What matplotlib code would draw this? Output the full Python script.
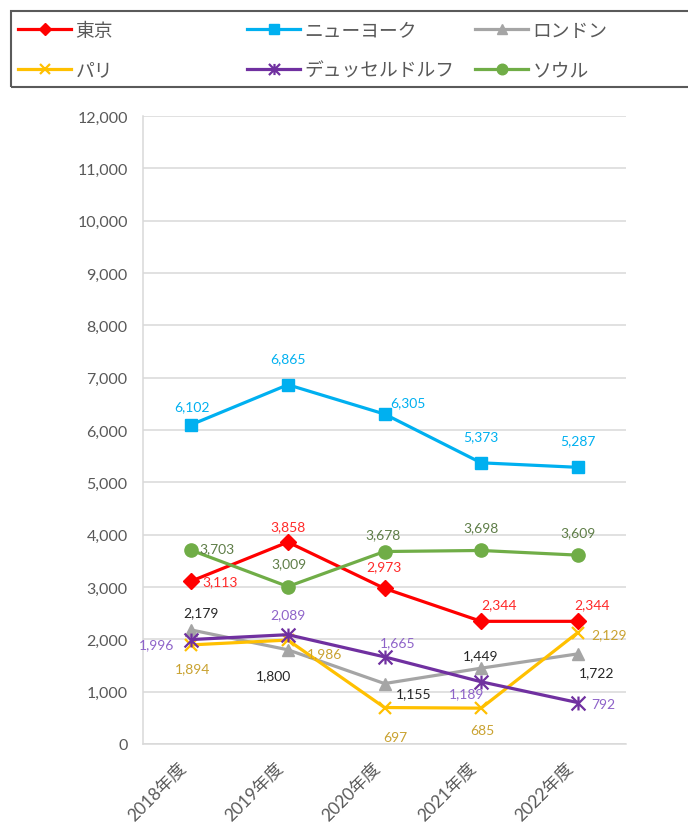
import matplotlib
matplotlib.use("Agg")
import matplotlib.pyplot as plt
from matplotlib.path import Path
from matplotlib.patches import Rectangle
from matplotlib.ticker import FuncFormatter, MultipleLocator
from matplotlib.transforms import ScaledTranslation

plt.rcParams['font.family'] = ['Lato', 'Noto Sans CJK JP', 'DejaVu Sans']

# ---- data ----
years = ['2018年度', '2019年度', '2020年度', '2021年度', '2022年度']
cities = ['東京', 'ニューヨーク', 'ロンドン', 'パリ', 'デュッセルドルフ', 'ソウル']
tokyo = [3113, 3858, 2973, 2344, 2344]
new_york = [6102, 6865, 6305, 5373, 5287]
london = [2179, 1800, 1155, 1449, 1722]
paris = [1894, 1986, 697, 685, 2129]
dusseldorf = [1996, 2089, 1665, 1189, 792]
seoul = [3703, 3009, 3678, 3698, 3609]
series = [tokyo, new_york, london, paris, dusseldorf, seoul]

# ---- styles ----
line_colors = ['#FF0000', '#00B0F0', '#A5A5A5', '#FFC000', '#7030A0', '#70AD47']
label_colors = ['#FF2A2A', '#00B0F0', '#262626', '#C9A230', '#8E63C9', '#5E7D47']

# asterisk marker: an X crossed by a vertical bar
star_path = Path([(-1, -1), (1, 1), (-1, 1), (1, -1), (0, -1), (0, 1)],
                 [Path.MOVETO, Path.LINETO, Path.MOVETO, Path.LINETO,
                  Path.MOVETO, Path.LINETO])
markers = ['D', 's', '^', 'x', star_path, 'o']
marker_sizes = [8, 9, 9, 9, 10, 9.5]
marker_ew = [1, 1, 1, 1.6, 1.6, 1]

# label offsets in pixels (dx, dy up) from each point
label_offsets = [
    [(29, 0), (0, 16), (-1, 22), (18, 17), (14, 17)],
    [(1, 19), (0, 27), (23, 12), (0, 27), (0, 27)],
    [(10, 18), (-14, -25), (29, -10), (0, 13), (19, -18)],
    [(1, -23), (37, -13), (11, -29), (1, -22), (31, -2)],
    [(-35, -5), (0, 21), (13, 15), (-15, -11), (26, -1)],
    [(26, 2), (1, 23), (-1, 17), (0, 23), (0, 23)],
]

W, H = 688, 828
fig = plt.figure(figsize=(W / 100, H / 100), dpi=100)
ax = fig.add_axes([143 / W, 83 / H, (626 - 143) / W, (745 - 117) / H])

x = list(range(len(years)))
handles = []
for vals, name, lc, mk, ms, mew in zip(series, cities, line_colors, markers,
                                        marker_sizes, marker_ew):
    h, = ax.plot(x, vals, color=lc, lw=2.3, marker=mk, markersize=ms,
                 markerfacecolor=lc, markeredgecolor=lc, markeredgewidth=mew,
                 label=name, zorder=3, clip_on=False)
    handles.append(h)

for vals, offs, tc in zip(series, label_offsets, label_colors):
    for xi, v, (dx, dy) in zip(x, vals, offs):
        ax.annotate(f'{v:,}', (xi, v), xytext=(dx * 0.72, dy * 0.72),
                    textcoords='offset points', ha='center', va='center',
                    fontsize=10, color=tc, zorder=5)

ax.set_xlim(-0.5, 4.5)
ax.set_ylim(0, 12000)
ax.yaxis.set_major_locator(MultipleLocator(1000))
ax.yaxis.set_major_formatter(FuncFormatter(lambda v, p: f'{int(v):,}'))
ax.set_xticks(x)
ax.set_xticklabels(years)
ax.tick_params(axis='y', length=0, pad=11, labelsize=11.5, labelcolor='#595959')
ax.tick_params(axis='x', length=0, pad=15, labelsize=12.5, labelcolor='#595959')
for lab in ax.get_xticklabels():
    lab.set_rotation(45)
    lab.set_ha('right')
    lab.set_va('center')
    lab.set_rotation_mode('anchor')
    lab.set_transform(lab.get_transform() +
                      ScaledTranslation(-0.07, 0, fig.dpi_scale_trans))

ax.grid(axis='y', color='#D9D9D9', lw=1.1)
ax.set_axisbelow(True)
for s in ['top', 'right']:
    ax.spines[s].set_visible(False)
for s in ['left', 'bottom']:
    ax.spines[s].set_color('#D9D9D9')
    ax.spines[s].set_linewidth(1.1)

# ---- legend: one entry per slot, inside a framed band ----
fig.patches.append(Rectangle((11 / W, 1 - 88 / H), 1.0, 76 / H,
                             transform=fig.transFigure, fill=False,
                             edgecolor='#5A5A5A', lw=1.5))
slots = [(18, 31), (247, 31), (475, 31), (18, 71), (247, 71), (475, 71)]
for h, name, (px, py) in zip(handles, cities, slots):
    fig.legend(handles=[h], labels=[name], loc='center left',
               bbox_to_anchor=(px / W, 1 - py / H), frameon=False,
               fontsize=13.5, handlelength=2.85, handletextpad=0.22,
               borderpad=0, borderaxespad=0, markerscale=0.8,
               labelcolor='#595959')

fig.savefig('out.png', dpi=100)
